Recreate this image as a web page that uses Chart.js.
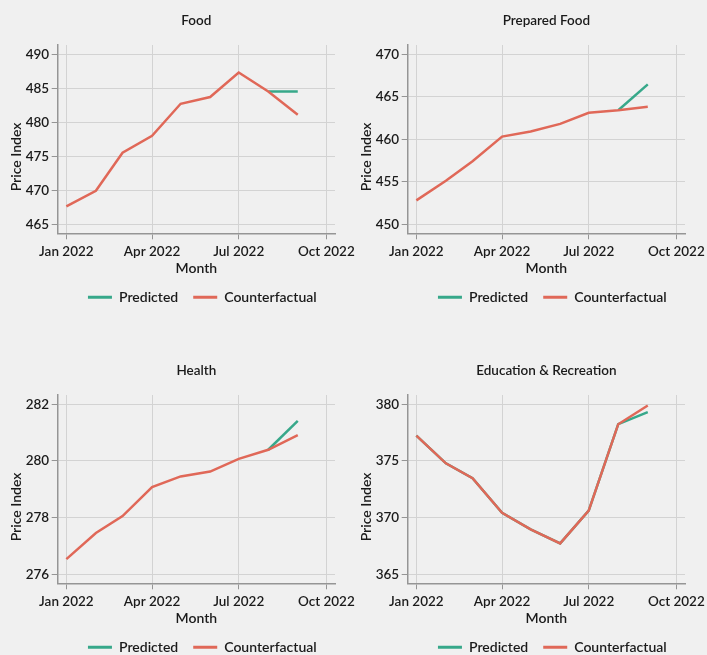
<!DOCTYPE html>
<html>
<head>
<meta charset="utf-8">
<script src="https://cdn.jsdelivr.net/npm/chart.js@4.4.1/dist/chart.umd.min.js"></script>
<style>
  html, body { margin: 0; padding: 0; background: #f0f0f0; }
  #wrap { position: relative; width: 707px; height: 655px; overflow: hidden; background: #f0f0f0; }
  #wrap canvas { position: absolute; }
</style>
</head>
<body>
<div id="wrap">
  <canvas id="food" width="360" height="350" style="left:0px;top:0px"></canvas>
  <canvas id="prepared" width="360" height="350" style="left:350px;top:0px"></canvas>
  <canvas id="health" width="360" height="350" style="left:0px;top:350px"></canvas>
  <canvas id="education" width="360" height="350" style="left:350px;top:350px"></canvas>
</div>
<script>
// Monthly observations, first day of each month
const months = ['2022-01-01', '2022-02-01', '2022-03-01', '2022-04-01', '2022-05-01',
                '2022-06-01', '2022-07-01', '2022-08-01', '2022-09-01'];
const xTickDates = ['2022-01-01', '2022-04-01', '2022-07-01', '2022-10-01'];
const xTickLabels = ['Jan 2022', 'Apr 2022', 'Jul 2022', 'Oct 2022'];
const seriesNames = ['Predicted', 'Counterfactual'];

const panelTitles = ['Food', 'Prepared Food', 'Health', 'Education & Recreation'];

const foodCounterfactual = [467.6, 469.9, 475.5, 478.0, 482.7, 483.7, 487.3, 484.5, 481.1];
const foodPredicted      = [null, null, null, null, null, null, null, 484.5, 484.5];
const foodTicks          = [465, 470, 475, 480, 485, 490];

const preparedCounterfactual = [452.8, 455.1, 457.4, 460.3, 460.9, 461.8, 463.1, 463.4, 463.8];
const preparedPredicted      = [null, null, null, null, null, null, null, 463.4, 466.45];
const preparedTicks          = [450, 455, 460, 465, 470];

const healthCounterfactual = [276.53, 277.45, 278.05, 279.07, 279.45, 279.62, 280.07, 280.39, 280.91];
const healthPredicted      = [null, null, null, null, null, null, null, 280.39, 281.41];
const healthTicks          = [276, 278, 280, 282];

const educationCounterfactual = [377.23, 374.78, 373.46, 370.42, 368.95, 367.71, 370.6, 378.23, 379.88];
const educationPredicted      = [377.23, 374.78, 373.46, 370.42, 368.95, 367.71, 370.6, 378.23, 379.29];
const educationTicks          = [365, 370, 375, 380];

const COLOR_PRED = '#37a88a';
const COLOR_CF = '#e06858';
const TEXT = '#1a1a1a';
const GRID = '#d3d3d3';
const AXIS = '#959595';
const FONT = 'Lato, "Open Sans", "DejaVu Sans", sans-serif';
const WEIGHT = 600;

Chart.defaults.font.family = FONT;
Chart.defaults.font.weight = WEIGHT;
Chart.defaults.color = TEXT;

const dayMs = 86400000;
const origin = Date.parse(months[0] + 'T00:00:00Z');
const toDay = s => (Date.parse(s + 'T00:00:00Z') - origin) / dayMs;
const xTickDays = xTickDates.map(toDay);
const X_PAD_DAYS = 9.1;      // breathing room on both ends of the time axis
const Y_PAD_FRAC = 0.0538;   // breathing room above/below the outer y ticks

// Vertical y-axis caption, drawn a little below the axis midpoint
const yCaption = {
  id: 'yCaption',
  afterDraw(chart, args, opts) {
    const ctx = chart.ctx;
    ctx.save();
    ctx.translate(opts.x, opts.y);
    ctx.rotate(-Math.PI / 2);
    ctx.font = WEIGHT + ' 14px ' + FONT;
    ctx.fillStyle = TEXT;
    ctx.textAlign = 'center';
    ctx.textBaseline = 'middle';
    ctx.fillText(opts.text, 0, 0);
    ctx.restore();
  }
};

// Nudge the legend row slightly to the right of the plot centre
const legendNudge = {
  id: 'legendNudge',
  afterLayout(chart, args, opts) {
    if (chart.legend) {
      chart.legend.left += opts.dx;
      chart.legend.right += opts.dx;
    }
  }
};

function makePanel(canvasId, title, predicted, counterfactual, yTicks) {
  const span = yTicks[yTicks.length - 1] - yTicks[0];
  const xs = months.map(toDay);
  const toPoints = arr => arr.map((v, i) => ({ x: xs[i], y: v }));

  new Chart(document.getElementById(canvasId), {
    type: 'line',
    data: {
      datasets: [
        {
          label: seriesNames[0],
          data: toPoints(predicted),
          borderColor: COLOR_PRED,
          backgroundColor: COLOR_PRED,
          borderWidth: 2.5,
          pointRadius: 0,
          fill: false,
          tension: 0,
          order: 1
        },
        {
          label: seriesNames[1],
          data: toPoints(counterfactual),
          borderColor: COLOR_CF,
          backgroundColor: COLOR_CF,
          borderWidth: 2.5,
          pointRadius: 0,
          fill: false,
          tension: 0,
          order: 0
        }
      ]
    },
    plugins: [yCaption, legendNudge],
    options: {
      responsive: false,
      animation: false,
      devicePixelRatio: 1,
      layout: { padding: { left: 0, right: 25, top: 0, bottom: 35.7 } },
      plugins: {
        tooltip: { enabled: false },
        title: {
          display: true,
          text: title,
          fullSize: false,
          color: TEXT,
          font: { size: 13.5, weight: WEIGHT, lineHeight: 1.2 },
          padding: { top: 12.7, bottom: 16.1 }
        },
        legend: {
          display: true,
          position: 'bottom',
          fullSize: false,
          labels: {
            boxWidth: 24,
            boxHeight: 3,
            padding: 15,
            color: TEXT,
            font: { size: 14, weight: WEIGHT },
            sort: (a, b) => a.datasetIndex - b.datasetIndex,
            generateLabels: chart =>
              Chart.defaults.plugins.legend.labels.generateLabels(chart)
                .map(item => Object.assign(item, { lineWidth: 0 }))
          }
        },
        yCaption: { text: 'Price Index', x: 16.5, y: 157 },
        legendNudge: { dx: 6 }
      },
      scales: {
        x: {
          type: 'linear',
          bounds: 'data',
          min: xTickDays[0] - X_PAD_DAYS,
          max: xTickDays[xTickDays.length - 1] + X_PAD_DAYS,
          afterBuildTicks: scale => { scale.ticks = xTickDays.map(v => ({ value: v })); },
          afterFit: scale => { scale.height = 42; },
          ticks: {
            autoSkip: false,
            maxRotation: 0,
            padding: 4,
            color: TEXT,
            font: { size: 13.5, weight: WEIGHT },
            callback: (value, index) => xTickLabels[index]
          },
          grid: { color: GRID, tickColor: AXIS, tickLength: 6, lineWidth: 1 },
          border: { color: AXIS, width: 1.5 },
          title: {
            display: true,
            text: 'Month',
            color: TEXT,
            font: { size: 14, weight: WEIGHT, lineHeight: 1 },
            padding: { top: 2.4, bottom: 0 }
          }
        },
        y: {
          type: 'linear',
          bounds: 'data',
          min: yTicks[0] - span * Y_PAD_FRAC,
          max: yTicks[yTicks.length - 1] + span * Y_PAD_FRAC,
          afterBuildTicks: scale => { scale.ticks = yTicks.map(v => ({ value: v })); },
          afterFit: scale => { scale.width = 57.7; },
          ticks: {
            padding: 2.5,
            color: TEXT,
            font: { size: 13.5, weight: WEIGHT },
            callback: value => String(value)
          },
          grid: { color: GRID, tickColor: AXIS, tickLength: 6, lineWidth: 1 },
          border: { color: AXIS, width: 1.5 },
          title: { display: false }
        }
      }
    }
  });
}

makePanel('food', panelTitles[0], foodPredicted, foodCounterfactual, foodTicks);
makePanel('prepared', panelTitles[1], preparedPredicted, preparedCounterfactual, preparedTicks);
makePanel('health', panelTitles[2], healthPredicted, healthCounterfactual, healthTicks);
makePanel('education', panelTitles[3], educationPredicted, educationCounterfactual, educationTicks);
</script>
</body>
</html>
